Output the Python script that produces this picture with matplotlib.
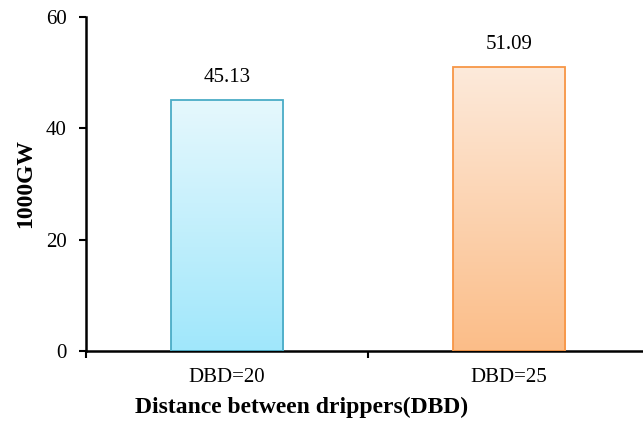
import matplotlib
matplotlib.use("Agg")
import matplotlib.pyplot as plt
import numpy as np
from matplotlib.colors import LinearSegmentedColormap

categories = ["DBD=20", "DBD=25"]
values = [45.13, 51.09]
top_colors = ["#e6f8fd", "#fdeadb"]
bottom_colors = ["#a0e7fb", "#fbbd88"]
edge_colors = ["#4bacc6", "#f79646"]

plt.rcParams["font.family"] = ["Liberation Serif", "DejaVu Serif"]

fig = plt.figure(figsize=(6.43, 4.23), dpi=100)
ax = fig.add_axes([86 / 643, 72 / 423, 564 / 643, 334 / 423])

x = np.arange(len(categories))
bars = ax.bar(x, values, width=0.4, color="none", edgecolor=edge_colors,
              linewidth=1.3, zorder=3)

# vertical gradient fill, clipped to each bar
grad = np.linspace(0, 1, 256).reshape(-1, 1)
for b, top, bot in zip(bars, top_colors, bottom_colors):
    cmap = LinearSegmentedColormap.from_list("g", [bot, top])
    x0, w, h = b.get_x(), b.get_width(), b.get_height()
    im = ax.imshow(grad, cmap=cmap, origin="lower", aspect="auto",
                   extent=[x0, x0 + w, 0, h], zorder=2)
    im.set_clip_path(b)

for xi, v in zip(x, values):
    ax.text(xi, v + 4, f"{v:.2f}", ha="center", va="center", fontsize=15)

ax.set_xlim(-0.5, 1.5)
ax.set_ylim(0, 60)
ax.set_yticks([0, 20, 40, 60])
ax.set_xticks(x)
ax.set_xticklabels(categories)
ax.set_xticks([-0.5, 0.5, 1.5], minor=True)
ax.tick_params(axis="x", which="major", length=0, pad=12, labelsize=15)
ax.tick_params(axis="x", which="minor", length=5, width=1.5, direction="out")
ax.tick_params(axis="y", length=5, width=1.5, direction="out", labelsize=15, pad=9)

for s in ["top", "right"]:
    ax.spines[s].set_visible(False)
for s in ["left", "bottom"]:
    ax.spines[s].set_linewidth(1.8)

ax.set_ylabel("1000GW", fontsize=17, fontweight="bold")
ax.yaxis.set_label_coords(-50 / 564, 0.5)
ax.set_xlabel("Distance between drippers(DBD)", fontsize=17, fontweight="bold",
              va="center")
ax.xaxis.set_label_coords(216 / 564, -56 / 334)

fig.savefig("out.png", dpi=100)
